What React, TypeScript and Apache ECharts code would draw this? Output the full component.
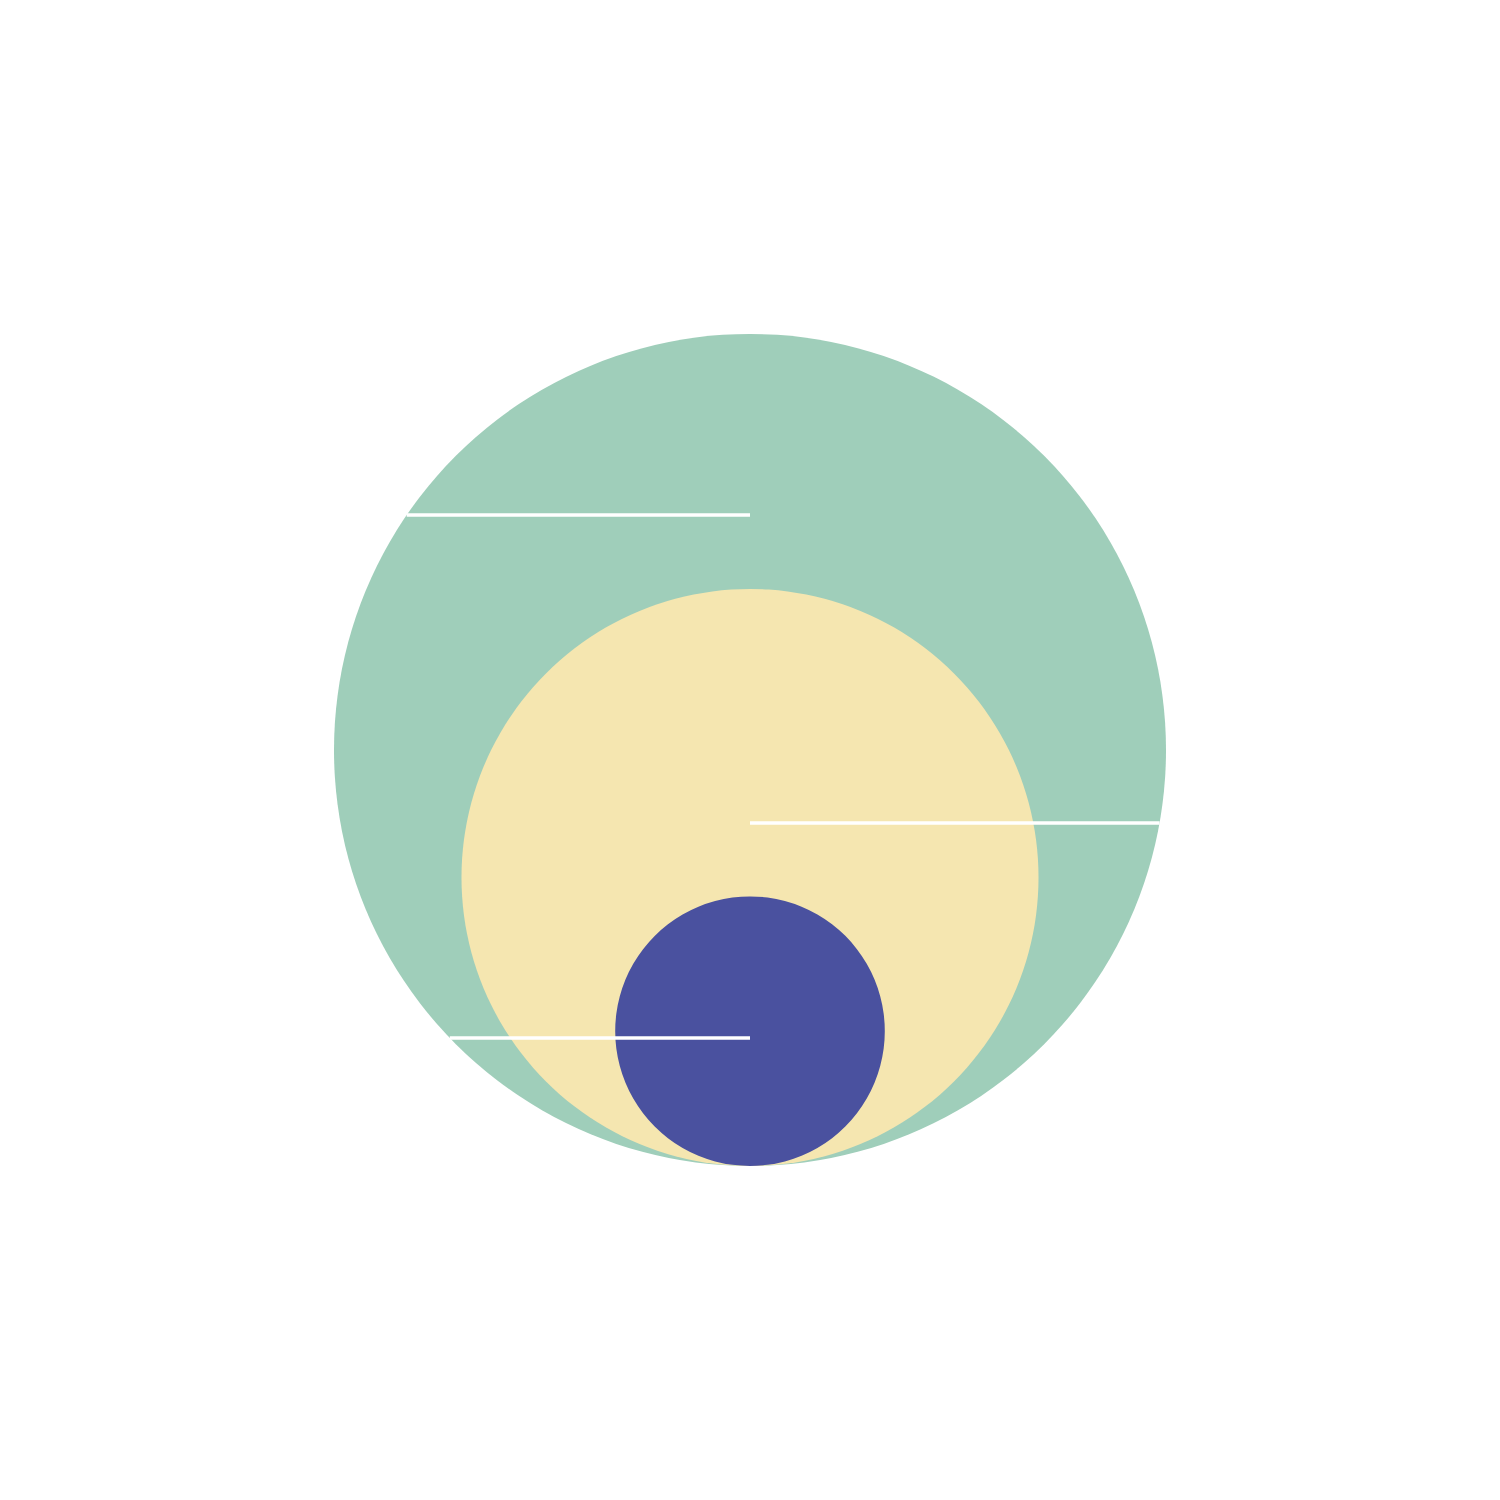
import React, { useEffect, useRef } from "react";
import * as echarts from "echarts";

const categories = ["Large", "Medium", "Small"];
const values = [100, 48.1, 10.5];
const colors = ["#9fceba", "#f5e6b0", "#4a519f"];
// leader line heights above the common baseline (axis units) and their side
const lineLevels = [651, 343, 128];
const lineSides = [-1, 1, -1];

const MAX_R = 416;

export default function App() {
  const ref = useRef<HTMLDivElement>(null);
  useEffect(() => {
    document.body.style.margin = "0";
    const chart = echarts.init(ref.current!, null, { renderer: "svg" });
    const vmax = Math.max(...values);
    const radii = values.map((v) => MAX_R * Math.sqrt(v / vmax));
    const R = radii[0];
    chart.setOption({
      animation: false,
      backgroundColor: "#ffffff",
      grid: { left: 0, right: 0, top: 0, bottom: 0 },
      xAxis: { type: "value", min: -750, max: 750, show: false },
      yAxis: { type: "value", min: -334, max: 1166, show: false },
      series: [
        {
          type: "custom",
          name: "bubbles",
          data: categories.map((c, i) => [i, radii[i]]),
          renderItem: (params: any, api: any) => {
            const i = api.value(0);
            const r = api.value(1);
            const c = api.coord([0, r]);
            const rp = api.size([r, 0])[0];
            return {
              type: "circle",
              shape: { cx: c[0], cy: c[1], r: rp },
              style: { fill: colors[i] },
            };
          },
          z: 1,
        },
        {
          type: "custom",
          name: "lines",
          data: lineLevels.map((h, i) => [i, h]),
          renderItem: (params: any, api: any) => {
            const i = api.value(0);
            const h = api.value(1);
            const dx = Math.sqrt(Math.max(0, R * R - (h - R) * (h - R)));
            const p1 = api.coord([0, h]);
            const p2 = api.coord([lineSides[i] * dx, h]);
            return {
              type: "line",
              shape: { x1: p1[0], y1: p1[1], x2: p2[0], y2: p2[1] },
              style: { stroke: "#ffffff", lineWidth: 3.5 },
            };
          },
          z: 2,
        },
      ],
    });
    return () => chart.dispose();
  }, []);
  return <div ref={ref} style={{ width: 1500, height: 1500 }} />;
}
